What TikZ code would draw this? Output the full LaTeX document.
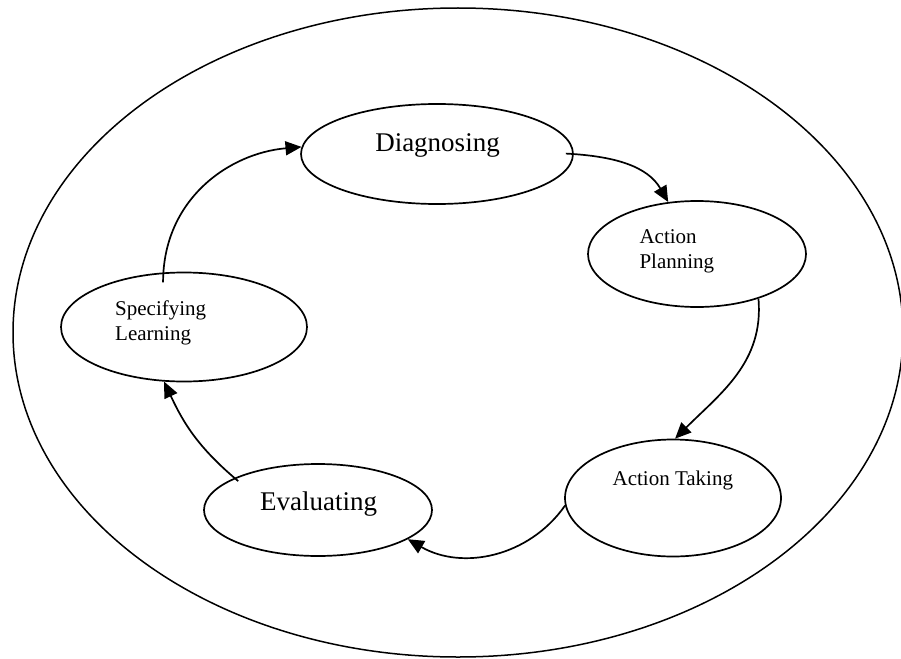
\documentclass[tikz,border=0pt]{standalone}
\usepackage{fontspec}
\setmainfont{Liberation Serif}
\usetikzlibrary{shapes.geometric, arrows.meta}

\begin{document}
\begin{tikzpicture}[x=1pt, y=1pt,
  stage/.style={ellipse, draw, line width=1.7pt, inner sep=0pt},
  flow/.style={line width=1.7pt, -{Triangle[length=16pt, width=14pt]}},
  big/.style={font=\fontsize{27}{32}\selectfont},
  small/.style={font=\fontsize{21}{25}\selectfont, align=left}
]
\useasboundingbox (0,0) rectangle (901,-658);
\draw[line width=1.5pt] (458,-332.5) ellipse [x radius=445, y radius=324.5];

\node[stage, minimum width=272, minimum height=100] (diag) at (437,-154) {};
\node[stage, minimum width=218, minimum height=106] (plan) at (697,-254) {};
\node[stage, minimum width=216, minimum height=117] (take) at (673,-498) {};
\node[stage, minimum width=228, minimum height=92] (eval) at (318,-510) {};
\node[stage, minimum width=246, minimum height=109] (spec) at (184,-327) {};

\node[big, anchor=base] (tdiag) at (437.5,-151.7) {Diagnosing};
\node[small, anchor=base west] (tplan) at (636,-268) {Action\\Planning};
\node[small, anchor=base] (ttake) at (672.8,-485) {Action Taking};
\node[big, anchor=base] (teval) at (318.7,-510) {Evaluating};
\node[small, anchor=base west] (tspec) at (111.7,-340) {Specifying\\Learning};

\draw[flow, shorten <=-8pt] (diag.east) to[out=-3, in=120] (plan.119);
\draw[flow] (plan.-36) to[out=-85, in=45] (take.88);
\draw[flow] (take.184) to[out=-125, in=-30] (eval.-18);
\draw[flow, shorten <=-5pt] (eval.159) to[out=140, in=-65] (spec.-110);
\draw[flow, shorten <=-10pt] (spec.111) to[out=90, in=185] (diag.177);

\end{tikzpicture}
\end{document}
